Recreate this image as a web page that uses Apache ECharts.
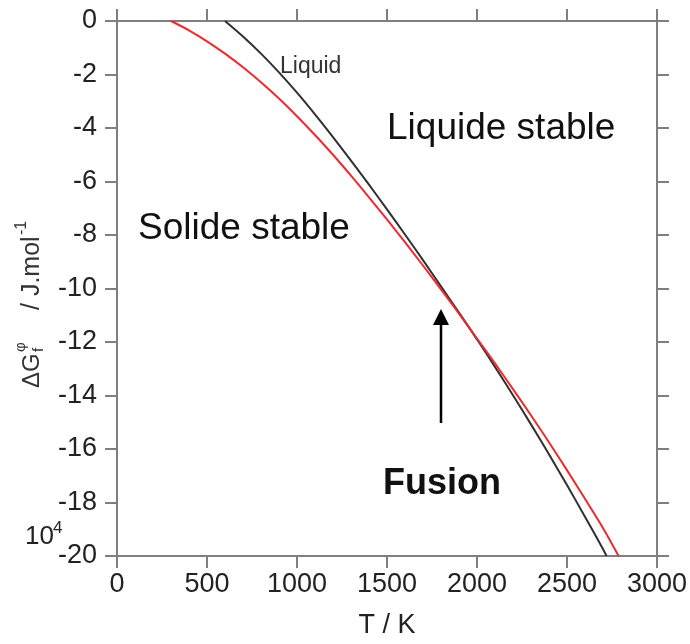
<!DOCTYPE html>
<html><head><meta charset="utf-8">
<script src="https://cdn.jsdelivr.net/npm/echarts@6/dist/echarts.min.js"></script>
<style>html,body{margin:0;padding:0;background:#fff}#c{width:690px;height:644px}</style>
</head><body><div id="c"></div>
<script>
// Temperature (K) and Gibbs energy (x 10^4 J/mol)
const solidT = [300,400,500,600,700,800,900,1000,1100,1200,1300,1400,1500,1600,1700,1800,1900,2000,2100,2200,2300,2400,2500,2600,2700,2787];
const solidG = [0,-0.35,-0.76,-1.22,-1.73,-2.29,-2.90,-3.56,-4.26,-5.00,-5.78,-6.59,-7.42,-8.27,-9.14,-10.03,-10.94,-11.87,-12.80,-13.76,-14.74,-15.75,-16.79,-17.86,-18.95,-20.0];
const liquidT = [600,700,800,900,1000,1100,1200,1300,1400,1500,1600,1700,1800,1900,2000,2100,2200,2300,2400,2500,2600,2700,2720];
const liquidG = [0,-0.58,-1.22,-1.92,-2.68,-3.49,-4.34,-5.22,-6.12,-7.04,-7.98,-8.94,-9.92,-10.90,-11.90,-12.93,-13.99,-15.08,-16.20,-17.35,-18.53,-19.74,-20.0];
const xRange = [0, 3000], xStep = 500;
const yRange = [-20, 0], yStep = 2;

const FONT = "'Liberation Sans', Arial, sans-serif";
const AX = '#7f7f7f';
const chart = echarts.init(document.getElementById('c'), null, {renderer:'canvas'});
const axisCommon = {
  axisLine:{show:true, onZero:false, lineStyle:{color:AX, width:2}},
  axisTick:{show:true, inside:false, length:12, lineStyle:{color:AX, width:2}},
  splitLine:{show:false}
};
function txt(x, y, text, size, extra){
  return Object.assign({type:'text', x:x, y:y, silent:true,
    style:Object.assign({text:text, fontSize:size, fontFamily:FONT, fill:'#111', verticalAlign:'middle', align:'left'}, extra||{})});
}
chart.setOption({
  animation:false,
  backgroundColor:'#fff',
  grid:{left:117, right:31, top:21, bottom:81},
  xAxis:[
    Object.assign({type:'value', position:'bottom', min:xRange[0], max:xRange[1], interval:xStep,
      axisLabel:{fontSize:27, fontFamily:FONT, color:'#222', margin:15, formatter:v=>String(v)},
      name:'T / K', nameLocation:'middle', nameGap:56,
      nameTextStyle:{fontSize:27, fontFamily:FONT, color:'#222'}}, axisCommon),
    Object.assign({type:'value', position:'top', min:xRange[0], max:xRange[1], interval:xStep,
      axisLabel:{show:false}}, axisCommon)
  ],
  yAxis:[
    Object.assign({type:'value', position:'left', min:yRange[0], max:yRange[1], interval:yStep,
      axisLabel:{fontSize:27, fontFamily:FONT, color:'#222', margin:20, formatter:v=>String(v)}}, axisCommon),
    Object.assign({type:'value', position:'right', min:yRange[0], max:yRange[1], interval:yStep,
      axisLabel:{show:false}}, axisCommon)
  ],
  series:[
    {type:'line', name:'Liquid', data:liquidT.map((t,i)=>[t, liquidG[i]]), showSymbol:false, smooth:0.3,
      lineStyle:{color:'#303030', width:2}, z:2},
    {type:'line', name:'Solid', data:solidT.map((t,i)=>[t, solidG[i]]), showSymbol:false, smooth:0.3,
      lineStyle:{color:'#ee2a2f', width:2}, z:3}
  ],
  graphic:[
    txt(280, 67, 'Liquid', 23, {fill:'#333'}),
    txt(387, 129, 'Liquide stable', 37),
    txt(138, 229, 'Solide stable', 37),
    txt(383, 484, 'Fusion', 36, {fontWeight:'bold'}),
    txt(25, 537, '10', 26, {fill:'#222'}),
    txt(53, 528, '4', 17, {fill:'#222'}),
    {type:'line', silent:true, shape:{x1:441, y1:423, x2:441, y2:322}, style:{stroke:'#000', lineWidth:2.5}},
    {type:'polygon', silent:true, shape:{points:[[441,309],[433,325],[449,325]]}, style:{fill:'#000'}},
    {type:'group', x:32, y:388, rotation:Math.PI/2, children:[
      txt(0, 0, 'ΔG', 24, {fill:'#333'}),
      txt(36, -11, 'φ', 15, {fill:'#333'}),
      txt(36, 7, 'f', 15, {fill:'#333'}),
      txt(78, 0, '/ J.mol', 25, {fill:'#333'}),
      txt(153, -10, '-1', 16, {fill:'#333'})
    ]}
  ]
});
</script></body></html>
